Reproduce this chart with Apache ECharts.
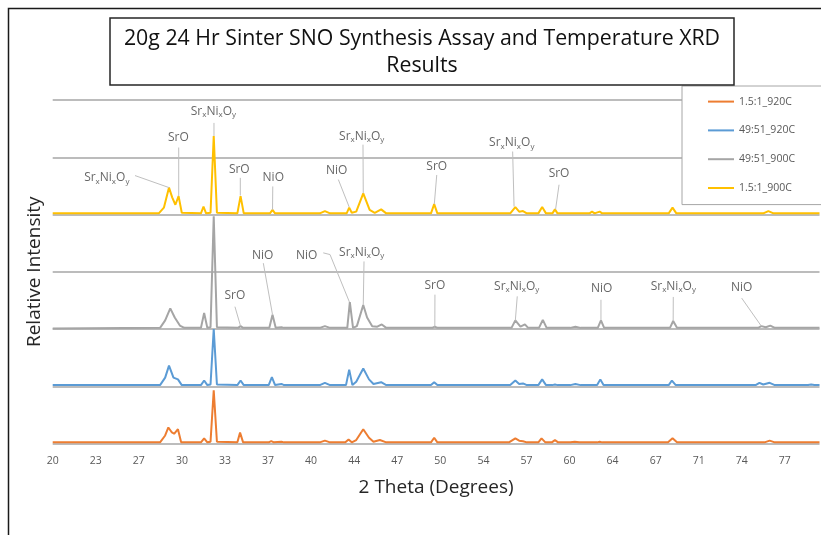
<!DOCTYPE html>
<html lang="en">
<head>
    <meta charset="UTF-8">
    <title>SNO XRD</title>
    <script src="https://cdn.jsdelivr.net/npm/echarts@6/dist/echarts.min.js"></script>
    <style>
        html, body { margin: 0; padding: 0; background: #fff; }
        #main { width: 821px; height: 535px; }
    </style>
</head>
<body>
<div id="main"></div>
<script type="text/javascript">
    // x axis ticks (Excel category labels, every ~3.37 deg, shown rounded)
    var thetaTicks = [20, 23.37, 26.74, 30.11, 33.48, 36.85, 40.22, 43.59, 46.96,
        50.33, 53.7, 57.07, 60.44, 63.81, 67.18, 70.55, 73.92, 77.29];
    var thetaTickLabels = ['20', '23', '27', '30', '33', '37', '40', '44', '47',
        '50', '54', '57', '60', '64', '67', '71', '74', '77'];

    var seriesNames = ['1.5:1_920C', '49:51_920C', '49:51_900C', '1.5:1_900C'];
    // vertical offsets of each pattern (in gridline units)
    var seriesOffsets = [0, 1, 2, 4];

    // [2theta, relative intensity]
    var xrd_15_920 = [[20, 0.02], [28.4, 0.02], [28.8, 0.14], [29.05, 0.28], [29.3, 0.2], [29.5, 0.17], [29.8, 0.25], [30.05, 0.02],
        [31.6, 0.02], [31.85, 0.09], [32.1, 0.02], [32.35, 0.03], [32.6, 0.93], [32.85, 0.03],
        [34.45, 0.02], [34.66, 0.19], [34.9, 0.02],
        [36.9, 0.02], [37.1, 0.04], [37.3, 0.02], [37.9, 0.03], [38.1, 0.02],
        [40.9, 0.02], [41.3, 0.05], [41.7, 0.02],
        [42.9, 0.02], [43.15, 0.07], [43.4, 0.02], [43.75, 0.06], [44.3, 0.25], [44.75, 0.1], [45.1, 0.03], [45.6, 0.06], [46.1, 0.02],
        [49.6, 0.02], [49.85, 0.1], [50.1, 0.02],
        [55.7, 0.02], [56.2, 0.09], [56.5, 0.05], [56.8, 0.04], [57.1, 0.02],
        [58.0, 0.02], [58.25, 0.09], [58.55, 0.02], [59.05, 0.02], [59.3, 0.06], [59.55, 0.02],
        [60.5, 0.02], [60.85, 0.03], [61.2, 0.02],
        [62.05, 0.02], [62.2, 0.04], [62.4, 0.02], [62.6, 0.02], [62.8, 0.03], [63.0, 0.02],
        [68.15, 0.02], [68.5, 0.09], [68.85, 0.02],
        [75.7, 0.02], [76.1, 0.05], [76.5, 0.02], [80, 0.02]];

    var xrd_4951_920 = [[20, 0.02], [28.4, 0.02], [28.8, 0.15], [29.1, 0.36], [29.45, 0.15], [29.8, 0.12], [30.1, 0.02],
        [31.6, 0.02], [31.85, 0.1], [32.1, 0.02], [32.35, 0.03], [32.6, 1.0], [32.85, 0.03],
        [34.45, 0.02], [34.7, 0.1], [34.95, 0.02],
        [36.9, 0.02], [37.15, 0.16], [37.4, 0.02], [37.9, 0.04], [38.1, 0.02],
        [40.9, 0.02], [41.3, 0.06], [41.7, 0.02],
        [42.95, 0.02], [43.2, 0.29], [43.45, 0.02], [43.75, 0.08], [44.3, 0.31], [44.75, 0.12], [45.1, 0.04], [45.7, 0.07], [46.1, 0.02],
        [49.6, 0.02], [49.85, 0.07], [50.1, 0.02],
        [55.8, 0.02], [56.2, 0.1], [56.5, 0.04], [56.8, 0.05], [57.1, 0.02],
        [58.0, 0.02], [58.3, 0.12], [58.6, 0.02], [59.1, 0.02], [59.3, 0.03], [59.5, 0.02],
        [60.5, 0.02], [60.9, 0.04], [61.3, 0.02],
        [62.6, 0.02], [62.85, 0.12], [63.1, 0.02],
        [68.2, 0.02], [68.45, 0.1], [68.75, 0.02],
        [75.0, 0.02], [75.3, 0.06], [75.6, 0.03], [76.1, 0.06], [76.5, 0.02],
        [79.1, 0.02], [79.35, 0.03], [79.6, 0.02], [80, 0.02]];

    var xrd_4951_900 = [[20, 0.01], [28.4, 0.02], [28.8, 0.15], [29.2, 0.36], [29.55, 0.2], [29.95, 0.06], [30.3, 0.02],
        [31.6, 0.02], [31.85, 0.28], [32.1, 0.02], [32.35, 0.03], [32.6, 1.97], [32.85, 0.03],
        [34.5, 0.02], [34.7, 0.05], [34.9, 0.02],
        [36.95, 0.02], [37.2, 0.25], [37.45, 0.02], [37.9, 0.03], [38.1, 0.02],
        [40.9, 0.02], [41.3, 0.05], [41.7, 0.02],
        [43.05, 0.02], [43.25, 0.47], [43.5, 0.02], [43.8, 0.05], [44.3, 0.42], [44.6, 0.2], [45.0, 0.05], [45.4, 0.04], [45.75, 0.08], [46.1, 0.02],
        [49.7, 0.02], [49.9, 0.04], [50.1, 0.02],
        [55.9, 0.02], [56.2, 0.15], [56.6, 0.04], [56.95, 0.08], [57.2, 0.02],
        [58.05, 0.02], [58.35, 0.16], [58.65, 0.02],
        [60.5, 0.02], [60.9, 0.04], [61.3, 0.02],
        [62.65, 0.02], [62.9, 0.15], [63.15, 0.02],
        [68.3, 0.02], [68.55, 0.14], [68.85, 0.02],
        [75.2, 0.02], [75.45, 0.05], [75.8, 0.03], [76.15, 0.06], [76.5, 0.02], [80, 0.02]];

    var xrd_15_900 = [[20, 0.02], [28.3, 0.02], [28.7, 0.12], [29.1, 0.47], [29.35, 0.3], [29.6, 0.17], [29.85, 0.32], [30.1, 0.03],
        [31.6, 0.02], [31.8, 0.14], [32.0, 0.02], [32.35, 0.03], [32.6, 1.37], [32.85, 0.03],
        [34.45, 0.02], [34.7, 0.32], [34.95, 0.02],
        [37.0, 0.02], [37.2, 0.08], [37.4, 0.02],
        [40.9, 0.02], [41.3, 0.06], [41.7, 0.02],
        [43.0, 0.02], [43.2, 0.12], [43.4, 0.03], [43.75, 0.05], [44.3, 0.37], [44.8, 0.08], [45.2, 0.03], [45.7, 0.09], [46.1, 0.02],
        [49.6, 0.02], [49.85, 0.18], [50.1, 0.02],
        [55.8, 0.02], [56.2, 0.13], [56.5, 0.05], [56.8, 0.06], [57.1, 0.02],
        [58.0, 0.02], [58.3, 0.13], [58.6, 0.02], [59.1, 0.02], [59.3, 0.09], [59.5, 0.02],
        [62.0, 0.02], [62.2, 0.05], [62.4, 0.02], [62.8, 0.05], [63.0, 0.02],
        [68.2, 0.02], [68.5, 0.12], [68.8, 0.02],
        [75.6, 0.02], [76.0, 0.06], [76.4, 0.02], [80, 0.02]];

    var seriesColors = ['#ED7D31', '#5B9BD5', '#A5A5A5', '#FFC000'];

    // peak labels: text, label centre [2theta, y], leader line points
    var peakNames = ['SxN', 'SrO', 'SxN', 'SrO', 'NiO', 'NiO', 'SxN', 'SrO', 'SxN', 'SrO',
        'NiO', 'SrO', 'NiO', 'SxN', 'SrO', 'SxN', 'NiO', 'SxN', 'NiO'];
    var peakLabelAt = [[24.23, 4.64], [29.83, 5.34], [32.57, 5.80], [34.6, 4.78], [37.26, 4.64], [42.22, 4.77],
        [44.18, 5.36], [50.05, 4.84], [55.92, 5.25], [59.62, 4.71],
        [36.43, 3.28], [34.26, 2.58], [39.87, 3.28], [44.18, 3.34], [49.91, 2.75], [56.31, 2.74],
        [62.96, 2.70], [68.56, 2.74], [73.91, 2.72]];
    var peakLeaders = [
        [[26.44, 4.68], [29.1, 4.47]],
        [[29.86, 5.17], [29.86, 4.32]],
        [[32.62, 5.60], [32.62, 5.37]],
        [[34.68, 4.64], [34.68, 4.33]],
        [[37.22, 4.49], [37.2, 4.08]],
        [[42.35, 4.61], [43.2, 4.13]],
        [[44.28, 5.22], [44.3, 4.37]],
        [[50.05, 4.69], [49.86, 4.18]],
        [[55.99, 5.10], [56.1, 4.14]],
        [[59.62, 4.52], [59.35, 4.09]],
        [[36.48, 3.15], [37.2, 2.25]],
        [[34.26, 2.39], [34.7, 2.05]],
        [[41.17, 3.33], [41.7, 3.30], [43.22, 2.47]],
        [[44.36, 3.18], [44.3, 2.42]],
        [[49.91, 2.60], [49.9, 2.04]],
        [[56.35, 2.57], [56.2, 2.15]],
        [[62.9, 2.51], [62.9, 2.15]],
        [[68.56, 2.56], [68.55, 2.14]],
        [[73.91, 2.54], [75.45, 2.05]]
    ];

    var myChart = echarts.init(document.getElementById('main'));

    var xrdSets = [xrd_15_920, xrd_4951_920, xrd_4951_900, xrd_15_900];
    var series = [];
    for (var i = 0; i < xrdSets.length; i++) {
        series.push({
            name: seriesNames[i],
            type: 'line',
            showSymbol: false,
            color: seriesColors[i],
            lineStyle: {width: 2, color: seriesColors[i]},
            data: xrdSets[i].map(function (p) {
                return [p[0], p[1] + seriesOffsets[this.k]];
            }, {k: i}),
            silent: true,
            z: 2 + i
        });
    }

    series.push({
        type: 'lines',
        coordinateSystem: 'cartesian2d',
        polyline: true,
        silent: true,
        z: 10,
        lineStyle: {color: '#bfbfbf', width: 1, opacity: 1},
        data: peakLeaders.map(function (pts) { return {coords: pts}; })
    });

    series.push({
        type: 'scatter',
        symbolSize: 1,
        silent: true,
        z: 11,
        itemStyle: {color: 'rgba(0,0,0,0)'},
        label: {
            show: true,
            position: 'inside',
            color: '#404040',
            fontSize: 12,
            fontFamily: 'Open Sans',
            formatter: function (p) {
                return p.name === 'SxN' ? 'Sr{s|x}Ni{s|x}O{s|y}' : p.name;
            },
            rich: {
                s: {fontSize: 8, color: '#404040', fontFamily: 'Open Sans', padding: [7, 0, 0, 0]}
            }
        },
        data: peakLabelAt.map(function (p, j) {
            return {name: peakNames[j], value: p};
        })
    });

    var option = {
        animation: false,
        backgroundColor: '#fff',
        textStyle: {fontFamily: 'Open Sans'},
        title: {
            text: '20g 24 Hr Sinter SNO Synthesis Assay and Temperature XRD\nResults',
            left: 408,
            top: 18,
            textAlign: 'center',
            padding: [7, 14, 6, 14],
            borderColor: '#262626',
            borderWidth: 1.5,
            textStyle: {fontSize: 21.3, fontWeight: 'normal', color: '#111', lineHeight: 27, fontFamily: 'Open Sans'}
        },
        legend: {
            data: seriesNames,
            orient: 'vertical',
            left: 682,
            top: 86,
            padding: [9, 40, 10, 25],
            itemWidth: 26,
            itemHeight: 14,
            itemGap: 15.6,
            itemStyle: {opacity: 0},
            backgroundColor: '#fff',
            borderColor: '#a6a6a6',
            borderWidth: 1,
            textStyle: {fontSize: 10.5, color: '#595959', fontFamily: 'Open Sans'}
        },
        grid: {
            left: 52.7,
            right: 1.5,
            top: 100,
            bottom: 91.5,
            outerBoundsMode: 'none'
        },
        xAxis: {
            type: 'value',
            min: 20,
            max: 80,
            name: '2 Theta (Degrees)',
            nameLocation: 'middle',
            nameGap: 35,
            nameTextStyle: {fontSize: 19, color: '#262626', fontFamily: 'Open Sans'},
            axisLine: {show: false},
            axisTick: {show: false},
            splitLine: {show: false},
            axisLabel: {
                customValues: thetaTicks,
                margin: 12,
                fontSize: 10.5,
                color: '#595959',
                formatter: function (v) {
                    var best = 0;
                    for (var j = 1; j < thetaTicks.length; j++) {
                        if (Math.abs(thetaTicks[j] - v) < Math.abs(thetaTicks[best] - v)) best = j;
                    }
                    return thetaTickLabels[best];
                }
            }
        },
        yAxis: {
            type: 'value',
            min: 0,
            max: 6,
            interval: 1,
            name: 'Relative Intensity',
            nameLocation: 'middle',
            nameGap: 9,
            nameTextStyle: {fontSize: 19, color: '#262626', fontFamily: 'Open Sans'},
            axisLine: {show: false},
            axisTick: {show: false},
            axisLabel: {show: false},
            splitLine: {show: true, lineStyle: {color: '#a6a6a6', width: 1.5}}
        },
        graphic: [{
            type: 'rect',
            shape: {x: 8.5, y: 8.5, width: 900, height: 600},
            style: {fill: 'none', stroke: '#1a1a1a', lineWidth: 1.5},
            silent: true,
            z: -1
        }],
        series: series
    };

    myChart.setOption(option);
</script>
</body>
</html>
